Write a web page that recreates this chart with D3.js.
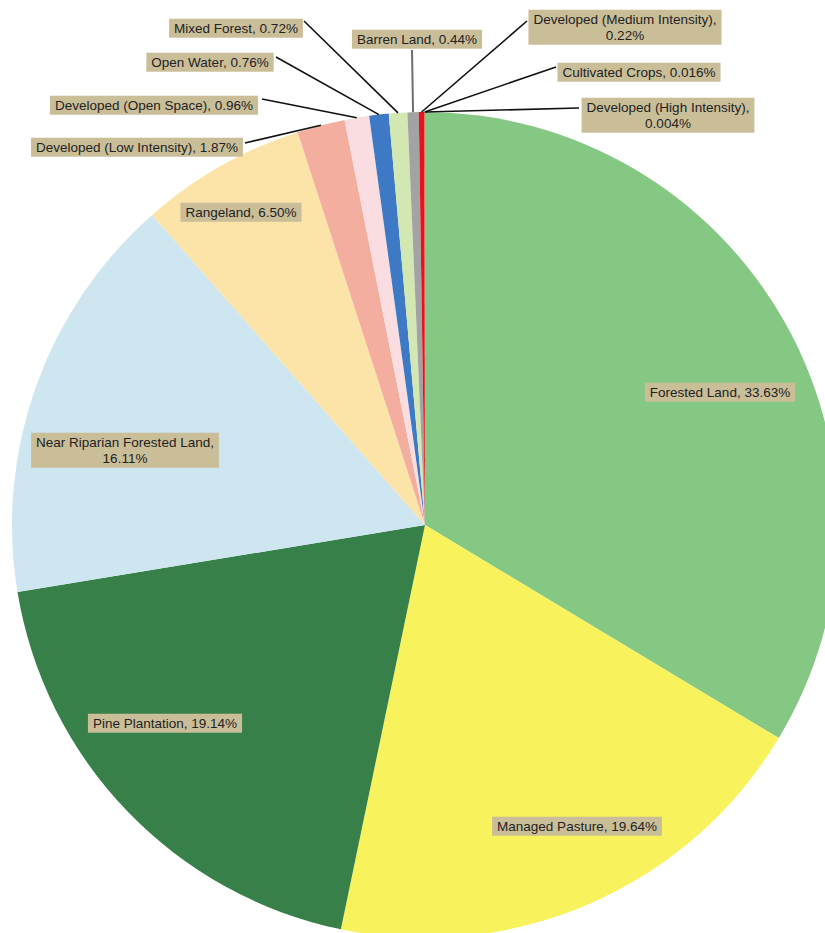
<!DOCTYPE html>
<html>
<head>
<meta charset="utf-8">
<script src="https://cdn.jsdelivr.net/npm/d3@7"></script>
<style>
  html, body { margin: 0; padding: 0; background: #fff; }
  svg { display: block; }
  text { font-family: "Liberation Sans", Arial, sans-serif; font-size: 13.5px; fill: #222; }
</style>
</head>
<body>
<svg id="chart" width="825" height="933"></svg>
<script>
// land use categories, clockwise from 12 o'clock
const categories = [
  "Forested Land",
  "Managed Pasture",
  "Pine Plantation",
  "Near Riparian Forested Land",
  "Rangeland",
  "Developed (Low Intensity)",
  "Developed (Open Space)",
  "Open Water",
  "Mixed Forest",
  "Barren Land",
  "Developed (Medium Intensity)",
  "Cultivated Crops",
  "Developed (High Intensity)"
];

// percent of area
const percents = [33.63, 19.64, 19.14, 16.11, 6.50, 1.87, 0.96, 0.76, 0.72, 0.44, 0.22, 0.016, 0.004];

const sliceColors = [
  "#84c884", "#f8f25c", "#37804a", "#cde6ef", "#fce4a8", "#f3ae9f",
  "#f9dde0", "#3d79c5", "#d3e7b3", "#a3a3a3", "#e8121c", "#c8a060", "#8b0000"
];

// label placement (box centre, leader line start); no lead = label sits inside slice
const labelLayout = {
  "Forested Land":                { x: 720, y: 392 },
  "Managed Pasture":              { x: 577, y: 826 },
  "Pine Plantation":              { x: 165, y: 723 },
  "Near Riparian Forested Land":  { x: 125, y: 450, wrap: true },
  "Rangeland":                    { x: 241, y: 212 },
  "Developed (Low Intensity)":    { x: 137, y: 147, lead: [245, 143] },
  "Developed (Open Space)":       { x: 154, y: 105, lead: [262, 99] },
  "Open Water":                   { x: 210, y: 62,  lead: [276, 57] },
  "Mixed Forest":                 { x: 236, y: 28,  lead: [304, 21] },
  "Barren Land":                  { x: 417, y: 39,  lead: [412, 50], grey: true },
  "Developed (Medium Intensity)": { x: 625, y: 27,  lead: [527, 21], wrap: true },
  "Cultivated Crops":             { x: 639, y: 72,  lead: [556, 67] },
  "Developed (High Intensity)":   { x: 668, y: 115, lead: [579, 108], wrap: true }
};

const width = 825, height = 933;
const cx = 425, cy = 525, radius = 413;

const data = categories.map((name, i) => ({ name, value: percents[i], color: sliceColors[i] }));

const fmt = v => (v >= 0.1 ? v.toFixed(2) : v.toFixed(3)) + "%";

const svg = d3.select("#chart");

const pie = d3.pie()
  .sort(null)
  .value(d => d.value)
  .startAngle(0)
  .endAngle(2 * Math.PI);

const arc = d3.arc()
  .innerRadius(0)
  .outerRadius(radius);

const arcs = pie(data);

const g = svg.append("g")
  .attr("transform", `translate(${cx}, ${cy})`);

// slices
g.selectAll("path.slice")
  .data(arcs)
  .join("path")
  .attr("class", "slice")
  .attr("d", arc)
  .attr("fill", d => d.data.color);

// leader lines, from label to the outer edge of the slice
const edgePoint = d => {
  const a = (d.startAngle + d.endAngle) / 2;
  return [cx + radius * Math.sin(a), cy - radius * Math.cos(a)];
};

const leaders = arcs.filter(d => labelLayout[d.data.name].lead);

svg.selectAll("path.leader")
  .data(leaders)
  .join("path")
  .attr("class", "leader")
  .attr("fill", "none")
  .attr("stroke", d => labelLayout[d.data.name].grey ? "#6e6e6e" : "#111")
  .attr("stroke-width", d => labelLayout[d.data.name].grey ? 2 : 1.6)
  .attr("d", d => d3.line()([labelLayout[d.data.name].lead, edgePoint(d)]));

// labels
const labels = svg.selectAll("g.label")
  .data(arcs)
  .join("g")
  .attr("class", "label")
  .attr("transform", d => `translate(${labelLayout[d.data.name].x}, ${labelLayout[d.data.name].y})`);

labels.append("rect")
  .attr("fill", "#cabe99");

labels.each(function(d) {
  const lay = labelLayout[d.data.name];
  const t = d3.select(this).append("text").attr("text-anchor", "middle");
  const lines = lay.wrap ? [d.data.name + ",", fmt(d.data.value)] : [d.data.name + ", " + fmt(d.data.value)];
  const lh = 16;
  lines.forEach((ln, i) => {
    t.append("tspan")
      .attr("x", 0)
      .attr("y", (i - (lines.length - 1) / 2) * lh)
      .attr("dy", "0.35em")
      .text(ln);
  });
  const bb = t.node().getBBox();
  d3.select(this).select("rect")
    .attr("x", bb.x - 5)
    .attr("y", bb.y - 2)
    .attr("width", bb.width + 10)
    .attr("height", bb.height + 4);
});
</script>
</body>
</html>
